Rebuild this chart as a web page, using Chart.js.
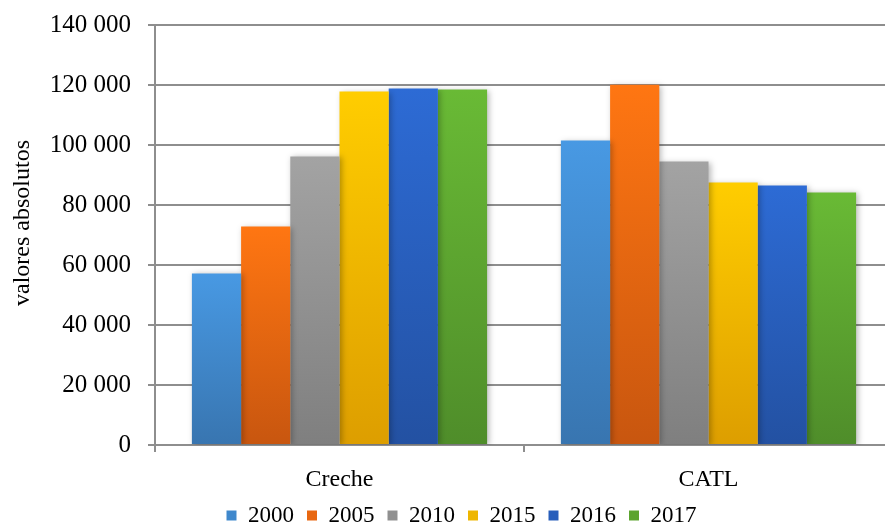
<!DOCTYPE html>
<html lang="pt">
<head>
  <meta charset="UTF-8">
  <title>valores absolutos</title>
  <style>
    * { box-sizing: border-box; margin: 0; padding: 0; }
    body { background: #fff; }
    .wrap { width: 885px; height: 525px; overflow: hidden; }
  </style>
</head>
<body>
  <div class="wrap">
    <canvas id="chart" width="893" height="525"></canvas>
  </div>

  <script src="https://cdn.jsdelivr.net/npm/chart.js@4"></script>
  <script>
    const categories = ['Creche', 'CATL'];
    const years = ['2000', '2005', '2010', '2015', '2016', '2017'];
    const v2000 = [57200, 101500];
    const v2005 = [72800, 120100];
    const v2010 = [96200, 94500];
    const v2015 = [117800, 87500];
    const v2016 = [118800, 86500];
    const v2017 = [118500, 84200];
    const series = [v2000, v2005, v2010, v2015, v2016, v2017];

    // cor do topo e da base de cada barra (gradiente)
    const topColors = ['#4899e3', '#ff7612', '#a3a3a3', '#ffcd00', '#2d6bd5', '#69ba35'];
    const bottomColors = ['#3875b0', '#c8560f', '#7f7f7f', '#dd9e00', '#2351a2', '#4f8d2a'];
    const midColors = ['#3f88cc', '#e86711', '#909090', '#eeb600', '#285ebb', '#5ca42f'];

    const serif = "'Liberation Serif', 'Times New Roman', serif";
    const gridColor = '#8e8e8e';

    function gradientFor(i) {
      return ctx => {
        const chart = ctx.chart, area = chart.chartArea;
        if (!area || ctx.type !== 'data') return midColors[i];
        const y = chart.scales.y.getPixelForValue(ctx.raw);
        const g = chart.ctx.createLinearGradient(0, y, 0, area.bottom);
        g.addColorStop(0, topColors[i]);
        g.addColorStop(1, bottomColors[i]);
        return g;
      };
    }

    const fmt = v => String(v).replace(/\B(?=(\d{3})+(?!\d))/g, ' ');

    const shadowPlugin = {
      id: 'barShadow',
      beforeDatasetsDraw(chart) {
        const c = chart.ctx;
        c.save();
        c.shadowColor = 'rgba(0,0,0,0.28)';
        c.shadowBlur = 6;
        c.shadowOffsetX = 2;
        c.shadowOffsetY = 1;
      },
      afterDatasetsDraw(chart) {
        chart.ctx.restore();
      }
    };

    new Chart(document.getElementById('chart'), {
      type: 'bar',
      data: {
        labels: categories,
        datasets: years.map((y, i) => ({
          label: y,
          data: series[i],
          backgroundColor: gradientFor(i),
          borderWidth: 0,
          categoryPercentage: 0.8,
          barPercentage: 1
        }))
      },
      options: {
        responsive: false,
        animation: false,
        // padding à esquerda só para centrar a legenda como no original
        layout: { padding: { top: 25, right: 0, bottom: -12, left: 30 } },
        scales: {
          x: {
            grid: { drawOnChartArea: false, tickLength: 7, color: gridColor, lineWidth: 2 },
            border: { color: gridColor, width: 2 },
            ticks: { color: '#000', padding: 13, font: { family: serif, size: 24 } },
            afterFit: s => { s.height = 46; }
          },
          y: {
            min: 0, max: 140000,
            grid: { color: gridColor, lineWidth: 2, tickLength: 7 },
            border: { color: gridColor, width: 2 },
            ticks: {
              stepSize: 20000, color: '#000', padding: 17,
              font: { family: serif, size: 25 },
              callback: v => fmt(v)
            },
            title: {
              display: true, text: '\u00a0\u00a0\u00a0\u00a0valores absolutos', color: '#000',
              font: { family: serif, size: 24 },
              padding: { top: -22, bottom: 0 }
            },
            afterFit: s => { s.width = 125; s.paddingTop = 0; s.paddingBottom = 0; }
          }
        },
        plugins: {
          legend: {
            position: 'bottom',
            labels: {
              boxWidth: 10, boxHeight: 10, padding: 13, color: '#000',
              font: { family: serif, size: 23 },
              generateLabels: chart => chart.data.datasets.map((d, i) => ({
                text: d.label, fillStyle: midColors[i], strokeStyle: midColors[i],
                lineWidth: 0, datasetIndex: i, hidden: false
              }))
            }
          },
          tooltip: { enabled: false }
        }
      },
      plugins: [shadowPlugin]
    });
  </script>
</body>
</html>
